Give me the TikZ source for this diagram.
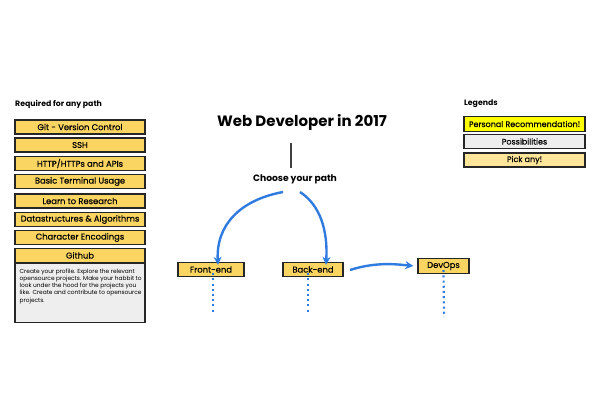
\documentclass[tikz,border=0pt]{standalone}
\usepackage{fontspec}
\setmainfont{Poppins}
\newfontfamily\boxfont{Poppins}[FakeBold=0.4]
\usetikzlibrary{arrows.meta}
\definecolor{boxyellow}{HTML}{FBD562}
\definecolor{brightyellow}{HTML}{FFFF00}
\definecolor{lightgray}{HTML}{EEEEEE}
\definecolor{pickany}{HTML}{FFE69A}
\definecolor{arrowblue}{HTML}{2F7BE0}
\begin{document}
\begin{tikzpicture}[x=1pt,y=-1pt,
  ybox/.style={draw=black!85,line width=1.3pt,fill=boxyellow,font=\boxfont\fontsize{8.4}{9}\selectfont,inner sep=0pt},
  lbox/.style={draw=black!85,line width=1.3pt,font=\boxfont\fontsize{8}{9}\selectfont,inner sep=0pt},
  head/.style={font=\fontsize{7.8}{8}\selectfont\bfseries,anchor=west,inner sep=0pt},
  barrow/.style={draw=arrowblue,line width=2.4pt,-{Stealth[length=8pt,width=8pt]}},
  dotline/.style={draw=arrowblue,line width=2.2pt,dash pattern=on 2pt off 3.2pt}
]
\useasboundingbox (0,0) rectangle (600,420);
% left column
\node[head] (req) at (15,104) {Required for any path};
\node[ybox,minimum width=130pt,minimum height=14pt] (git) at (80,127) {Git - Version Control};
\node[ybox,minimum width=130pt,minimum height=14pt] (ssh) at (80,145) {SSH};
\node[ybox,minimum width=130pt,minimum height=14pt] (http) at (80,163.5) {HTTP/HTTPs and APIs};
\node[ybox,minimum width=130pt,minimum height=14pt] (term) at (80,181.5) {Basic Terminal Usage};
\node[ybox,minimum width=130pt,minimum height=14pt] (res) at (80,201) {Learn to Research};
\node[ybox,minimum width=130pt,minimum height=14pt] (ds) at (80,219.5) {Datastructures \& Algorithms};
\node[ybox,minimum width=130pt,minimum height=14pt] (enc) at (80,237.5) {Character Encodings};
\node[lbox,fill=lightgray,minimum width=130pt,minimum height=59pt,anchor=north] (ghtext) at (80,263) {};
\node[ybox,minimum width=130pt,minimum height=14pt,anchor=south] (gh) at (80,263) {Github};
\node[anchor=north west,inner sep=0pt,align=left,font=\fontsize{5.85}{7.1}\selectfont] (ghdesc) at (19.5,269) {Create your profile. Explore the relevant\\opensource projects. Make your habbit to\\look under the hood for the projects you\\like. Create and contribute to opensource\\projects.};
% title
\node[font=\fontsize{15}{16}\selectfont\bfseries] (title) at (302,122) {Web Developer in 2017};
\coordinate (lt) at (291,143);
\coordinate (lb) at (291,168);
\draw[line width=1.5pt,black!75] (lt) -- (lb);
\node[font=\fontsize{9.2}{9}\selectfont\bfseries] (choose) at (295,179) {Choose your path};
% paths
\node[ybox,minimum width=66pt,minimum height=14pt] (front) at (211,269.5) {Front-end};
\node[ybox,minimum width=60pt,minimum height=14pt] (back) at (313,269.5) {Back-end};
\node[ybox,minimum width=51pt,minimum height=15pt] (devops) at (443.5,266) {DevOps};
\coordinate (cl) at (283,192);
\coordinate (cr) at (300,192);
\draw[barrow] (cl) .. controls (240,200) and (216,225) .. ([xshift=7pt,yshift=-3pt]front.north);
\draw[barrow] (cr) .. controls (320,205) and (328,230) .. ([xshift=13pt,yshift=-3pt]back.north);
\coordinate (bs) at (350,270);
\draw[barrow] (bs) .. controls (375,262) and (395,264) .. ([xshift=-4pt]devops.west);
\coordinate (fd) at (213,313);
\coordinate (bd) at (308,313);
\coordinate (dd) at (444,317);
\draw[dotline] ([xshift=2pt,yshift=4pt]front.south) -- (fd);
\draw[dotline] ([xshift=-5pt,yshift=4pt]back.south) -- (bd);
\draw[dotline] ([yshift=4pt]devops.south) -- (dd);
% legends
\node[head] (leg) at (464,104) {Legends};
\node[lbox,fill=brightyellow,minimum width=121pt,minimum height=15pt] (pr) at (524.5,124) {Personal Recommendation!};
\node[lbox,fill=lightgray,minimum width=121pt,minimum height=14pt] (pos) at (524.5,141.5) {Possibilities};
\node[lbox,fill=pickany,minimum width=121pt,minimum height=14pt] (pick) at (524.5,160) {Pick any!};
\end{tikzpicture}
\end{document}
